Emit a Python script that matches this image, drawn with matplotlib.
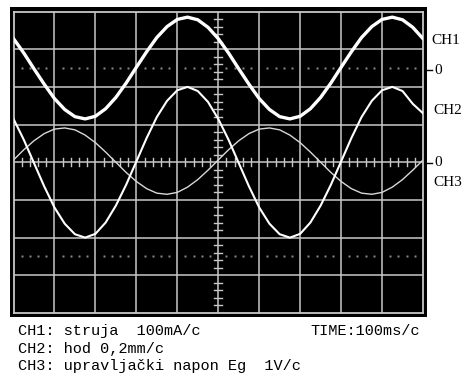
import matplotlib
matplotlib.use("Agg")
import matplotlib.pyplot as plt
from matplotlib.lines import Line2D
from matplotlib.patches import Rectangle

# time in divisions (100 ms/div), sampled every quarter division
time_div = [i * 0.25 for i in range(41)]

# CH1: current (100 mA/div), drawn around its own zero at +2.5 div
ch1 = [3.28, 2.90, 2.48, 2.07, 1.69, 1.40, 1.21, 1.15, 1.22, 1.42,
       1.72, 2.10, 2.52, 2.93, 3.31, 3.60, 3.79, 3.85, 3.78, 3.58,
       3.28, 2.90, 2.48, 2.07, 1.69, 1.40, 1.21, 1.15, 1.22, 1.42,
       1.72, 2.10, 2.52, 2.93, 3.31, 3.60, 3.79, 3.85, 3.78, 3.58,
       3.28]

# CH2: stroke (0.2 mm/div)
ch2 = [1.15, 0.60, -0.02, -0.64, -1.20, -1.63, -1.91, -2.00, -1.90, -1.60,
       -1.15, -0.60, 0.02, 0.64, 1.20, 1.63, 1.91, 2.00, 1.89, 1.60,
       1.15, 0.60, -0.02, -0.64, -1.20, -1.63, -1.91, -2.00, -1.90, -1.60,
       -1.15, -0.60, 0.02, 0.64, 1.20, 1.63, 1.91, 2.00, 1.89, 1.55,
       1.30]

# CH3: control voltage Eg (1 V/div)
ch3 = [0.06, 0.33, 0.57, 0.76, 0.88, 0.91, 0.86, 0.72, 0.52, 0.27,
       0.00, -0.27, -0.51, -0.70, -0.82, -0.85, -0.80, -0.66, -0.46, -0.21,
       0.06, 0.33, 0.57, 0.76, 0.88, 0.91, 0.86, 0.72, 0.52, 0.27,
       0.00, -0.27, -0.51, -0.70, -0.82, -0.85, -0.80, -0.66, -0.46, -0.21,
       0.06]

ref_levels = [2.5, -2.5]

W, H = 462, 374
GRID = "#c8c8c8"
MONO = "Liberation Mono"
SERIF = "Liberation Serif"


def fx(px):
    return px / W


def fy(py):
    return 1 - py / H


fig = plt.figure(figsize=(W / 100, H / 100), dpi=100)
fig.patch.set_facecolor("white")

# black screen behind the graticule
fig.patches.append(Rectangle((fx(10), fy(316.5)), fx(427) - fx(10), fy(7) - fy(316.5),
                             transform=fig.transFigure, facecolor="black",
                             edgecolor="none", zorder=-5))

ax = fig.add_axes([fx(13.5), fy(313), fx(423) - fx(13.5), fy(11.5) - fy(313)])
ax.set_zorder(2)
ax.set_facecolor("black")
ax.set_xlim(0, 10)
ax.set_ylim(-4, 4)
ax.set_xticks([])
ax.set_yticks([])
for sp in ax.spines.values():
    sp.set_color(GRID)
    sp.set_linewidth(1.3)

for x in range(1, 10):
    ax.axvline(x, color=GRID, lw=1.1, zorder=1)
for y in range(-3, 4):
    ax.axhline(y, color=GRID, lw=1.1, zorder=1)

# minor ticks on the centre cross
for k in range(1, 50):
    x = k / 5
    if k % 5:
        ax.plot([x, x], [-0.11, 0.11], color=GRID, lw=1.0, zorder=1)
for k in range(-19, 20):
    y = k / 5
    if k % 5:
        ax.plot([4.9, 5.1], [y, y], color=GRID, lw=1.0, zorder=1)

# dotted reference levels
for lvl in ref_levels:
    xs = [i + k / 5 for i in range(10) for k in range(1, 5)]
    ax.plot(xs, [lvl] * len(xs), ls="none", marker="s", ms=1.6,
            color="#8a8a8a", mec="none", zorder=1)

ax.plot(time_div, ch3, color="#d8d8d8", lw=1.0, zorder=2)
ax.plot(time_div, ch2, color="white", lw=1.5, zorder=3)
ax.plot(time_div, ch1, color="white", lw=2.4, zorder=4)

# right-hand channel markers
fig.text(fx(431), fy(41), "CH1", fontfamily=SERIF, fontsize=11, va="center", ha="left")
fig.text(fx(433), fy(110), "CH2", fontfamily=SERIF, fontsize=11, va="center", ha="left")
fig.text(fx(433), fy(183), "CH3", fontfamily=SERIF, fontsize=11, va="center", ha="left")
for py in (70, 163):
    fig.lines.append(Line2D([fx(426), fx(432)], [fy(py), fy(py)], color="black",
                            lw=1.0, transform=fig.transFigure))
    fig.text(fx(434), fy(py), "0", fontfamily=SERIF, fontsize=11, va="center", ha="left")

# captions under the screen
fig.text(fx(18), fy(331), "CH1: struja  100mA/c", fontfamily=MONO, fontsize=11, va="center")
fig.text(fx(310), fy(331), "TIME:100ms/c", fontfamily=MONO, fontsize=11, va="center")
fig.text(fx(18), fy(349), "CH2: hod 0,2mm/c", fontfamily=MONO, fontsize=11, va="center")
fig.text(fx(18), fy(366), "CH3: upravljački napon Eg  1V/c", fontfamily=MONO,
         fontsize=11, va="center")

fig.savefig("out.png", dpi=100, facecolor="white")
